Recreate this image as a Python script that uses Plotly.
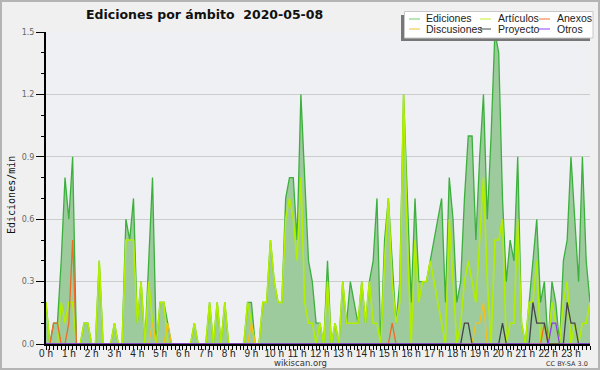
import plotly.graph_objects as go

# 10-minute buckets over the day (minutes since 00:00)
minutes = list(range(0, 1440, 10))

ediciones = [
    .2, 0, .1, .1, .4, .8, .6, .9, 0, 0, .1, .1,
    0, 0, .4, 0, 0, 0, .1, 0, 0, .6, .5, .7,
    .1, .3, 0, .4, .8, 0, .2, .2, .1, 0, 0, 0,
    0, 0, 0, .1, 0, 0, 0, .2, 0, .2, 0, .2,
    0, 0, 0, 0, 0, .2, .2, 0, 0, .2, .2, .5,
    .3, .2, .2, .7, .8, .8, .5, 1.2, .8, .4, .3, .1,
    .1, 0, .4, 0, .1, 0, .3, .1, .3, .2, .1, .3,
    .1, .3, .4, .7, 0, .5, .7, .4, .1, .3, 1.2, .7,
    .2, .7, .3, .3, .3, .4, .5, .6, .7, .2, .8, .6,
    .2, .3, .7, 1.0, 1.0, .5, .9, 1.2, .6, 1.0, 1.5, 1.4,
    .7, .3, .5, .4, .9, .1, 0, .2, .4, .6, .2, .3,
    0, .3, .2, 0, .4, .5, .9, .6, .3, .9, .4, .2,
]
articulos = [
    .2, 0, 0, 0, .2, .1, .2, .2, 0, 0, .1, .1,
    0, 0, .4, 0, 0, 0, .1, 0, 0, .5, .5, .5,
    .1, .3, 0, .3, .1, 0, .2, .2, 0, 0, 0, 0,
    0, 0, 0, .1, 0, 0, 0, .2, 0, .2, 0, .2,
    0, 0, 0, 0, 0, .2, .1, 0, 0, .2, .2, .5,
    .3, .2, .2, .6, .7, .6, .4, .8, .2, .1, .1, 0,
    .1, 0, .3, 0, .1, 0, .3, .1, .1, .1, .1, .3,
    .1, .3, .1, .1, 0, .4, .7, .3, .1, .2, 1.2, .5,
    0, .5, .2, .3, .3, .4, .3, .2, .1, 0, .6, .3,
    0, .1, .3, .4, .3, .2, .5, .8, .3, 0, .5, .5,
    .6, 0, .1, .1, .6, .1, 0, .2, .2, .4, 0, .1,
    0, .2, .1, 0, .2, .3, 0, .1, 0, .1, .1, .2,
]
anexos = [0.0] * 144
for i, v in [(2, .1), (3, .1), (6, .1), (7, .5), (91, .1), (131, .1)]:
    anexos[i] = v
discusiones = [0.0] * 144
for i, v in [(28, .1), (32, .1), (54, .1), (113, .1), (114, .1), (115, .2)]:
    discusiones[i] = v
proyecto = [0.0] * 144
for i, v in [(110, .1), (111, .1), (120, .1), (128, .2), (129, .1), (130, .1),
             (131, .1), (137, .2), (138, .1), (139, .1)]:
    proyecto[i] = v
otros = [0.0] * 144
for i, v in [(133, .1), (134, .1)]:
    otros[i] = v

series_names = ["Ediciones", "Artículos", "Anexos", "Discusiones", "Proyecto", "Otros"]
line_colors = ["#3cb03c", "#b2ee00", "#f06a28", "#f2c21a", "#444444", "#8a3cf0"]
legend_colors = ["#88d888", "#ccf055", "#f58a55", "#f5cc55", "#666666", "#a060ff"]

x = [m / 60 for m in minutes]

fig = go.Figure()
fig.add_trace(go.Scatter(x=x, y=ediciones, mode="lines", fill="tozeroy",
                         fillcolor="rgb(157,203,157)",
                         line=dict(color=line_colors[0], width=1.3),
                         name=series_names[0], showlegend=False))
for name, data, col, w in [(series_names[1], articulos, line_colors[1], 1.6),
                           (series_names[2], anexos, line_colors[2], 1.3),
                           (series_names[3], discusiones, line_colors[3], 1.3),
                           (series_names[4], proyecto, line_colors[4], 1.3),
                           (series_names[5], otros, line_colors[5], 1.3)]:
    fig.add_trace(go.Scatter(x=x, y=data, mode="lines",
                             line=dict(color=col, width=w),
                             name=name, showlegend=False))

L, R, T, B = 46, 10, 32, 26
W, H = 600, 370
PW, PH = W - L - R, H - T - B


def px(v):
    return (v - L) / PW


def py(v):
    return (H - B - v) / PH


shapes = []
annotations = []
# outer border
shapes.append(dict(type="rect", xref="paper", yref="paper",
                   x0=px(1), x1=px(599), y0=py(1), y1=py(369),
                   line=dict(color="#b4b4b4", width=2), fillcolor="rgba(0,0,0,0)",
                   layer="above"))
# legend shadow and box
shapes.append(dict(type="rect", xref="paper", yref="paper",
                   x0=px(401), x1=px(590), y0=py(15), y1=py(41),
                   line=dict(width=0), fillcolor="#777777", layer="above"))
shapes.append(dict(type="rect", xref="paper", yref="paper",
                   x0=px(404.5), x1=px(593), y0=py(11.5), y1=py(38),
                   line=dict(color="#c8c8c8", width=1), fillcolor="#ffffff",
                   layer="above"))
pos = [(409, 424, 19), (480, 496, 19), (539, 555, 19),
       (409, 424, 29), (480, 496, 29), (539, 555, 29)]
for k, (lx, tx, ly) in enumerate(pos):
    shapes.append(dict(type="line", xref="paper", yref="paper",
                       x0=px(lx), x1=px(lx + 11), y0=py(ly), y1=py(ly),
                       line=dict(color=legend_colors[k], width=1.2), layer="above"))
    annotations.append(dict(xref="paper", yref="paper", x=px(tx), y=py(ly - 0.5),
                            xanchor="left", yanchor="middle", showarrow=False,
                            text=series_names[k],
                            font=dict(family="Liberation Sans, Arial", size=10.5, color="#222")))

annotations.append(dict(xref="paper", yref="paper", x=px(84), y=py(15),
                        xanchor="left", yanchor="middle", showarrow=False,
                        text="<b>Ediciones por ámbito\u00a0 2020-05-08</b>",
                        font=dict(family="DejaVu Sans, sans-serif", size=12.5, color="#111")))
annotations.append(dict(xref="paper", yref="paper", x=px(300), y=py(362.5),
                        xanchor="center", yanchor="middle", showarrow=False,
                        text="wikiscan.org",
                        font=dict(family="DejaVu Sans, sans-serif", size=8.5, color="#333")))
annotations.append(dict(xref="paper", yref="paper", x=px(590), y=py(363.5),
                        xanchor="right", yanchor="middle", showarrow=False,
                        text="CC BY-SA 3.0",
                        font=dict(family="DejaVu Sans, sans-serif", size=6.5, color="#333")))
annotations.append(dict(xref="paper", yref="paper", x=px(12), y=py(195),
                        xanchor="center", yanchor="middle", showarrow=False, textangle=-90,
                        text="Ediciones/min",
                        font=dict(family="DejaVu Sans Mono, monospace", size=10, color="#111")))

fig.update_layout(
    autosize=False,
    width=W, height=H,
    margin=dict(l=L, r=R, t=T, b=B, pad=0, autoexpand=False),
    paper_bgcolor="#f0f0f0", plot_bgcolor="#eef0f3",
    showlegend=False,
    shapes=shapes, annotations=annotations,
    xaxis=dict(range=[0, 143 / 6], tick0=0, dtick=1, ticksuffix=" h", tickangle=0,
               automargin=False, ticklabelstandoff=-5,
               showgrid=False, zeroline=False, showline=True, linecolor="#000", linewidth=2,
               ticks="outside", ticklen=4, tickcolor="#000", tickwidth=1,
               tickfont=dict(family="Liberation Sans, Arial", size=10, color="#222"),
               minor=dict(tick0=0, dtick=1 / 6, ticks="outside", ticklen=4,
                          tickcolor="#000", tickwidth=1, showgrid=False),
               fixedrange=True),
    yaxis=dict(range=[0, 1.5], tick0=0, dtick=0.3, tickformat=".1f",
               automargin=False,
               showgrid=True, gridcolor="#cccccc", gridwidth=1, zeroline=False,
               showline=True, linecolor="#000", linewidth=2,
               ticks="outside", ticklen=8, tickcolor="#000", tickwidth=1,
               tickfont=dict(family="DejaVu Sans, sans-serif", size=8, color="#666"),
               minor=dict(tick0=0, dtick=0.1, ticks="outside", ticklen=3,
                          tickcolor="#000", tickwidth=1, showgrid=False),
               fixedrange=True),
)

fig.write_html("out.html", config={"displayModeBar": False, "responsive": False},
               post_script="document.body.style.margin='0';document.body.style.overflow='hidden';")
